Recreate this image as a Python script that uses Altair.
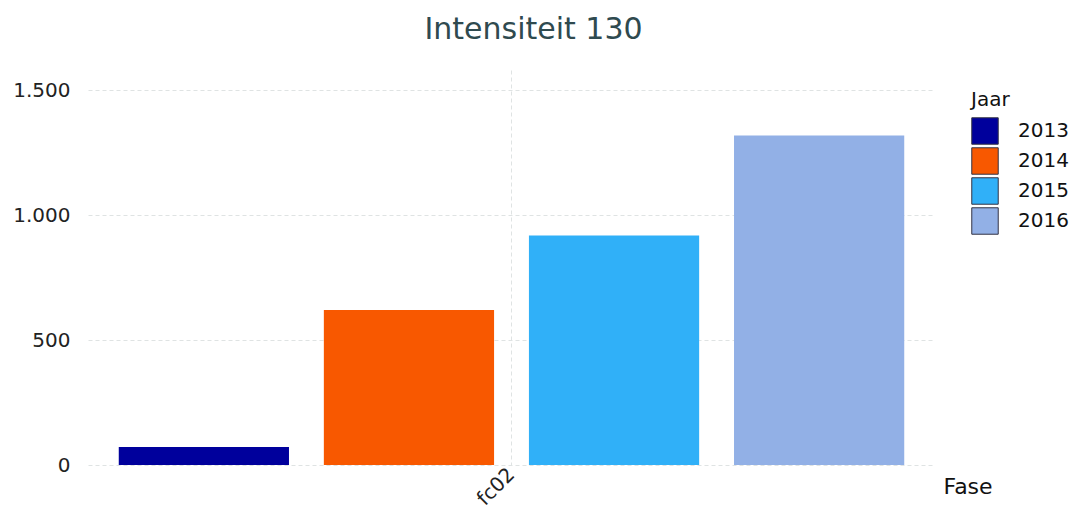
import altair as alt
import pandas as pd

fase = ["fc02", "fc02", "fc02", "fc02"]
jaar = ["2013", "2014", "2015", "2016"]
waarde = [72, 620, 918, 1318]
kleuren = ["#00009c", "#f85800", "#30b0f8", "#92b0e6"]

df = pd.DataFrame({"Fase": fase, "Jaar": jaar, "Waarde": waarde})

F = "DejaVu Sans"

chart = alt.Chart(df).mark_bar().encode(
    x=alt.X("Fase:N", scale=alt.Scale(paddingInner=0, paddingOuter=0),
            axis=alt.Axis(title="Fase", labelAngle=315, labelAlign="right", labelBaseline="middle",
                          labelFontSize=20, labelColor="#222", labelFont=F,
                          labelPadding=6, domain=False, ticks=False,
                          grid=True, gridDash=[4, 3], gridColor="#dfe3e3",
                          titleFont=F, titleFontSize=22, titleFontWeight="normal",
                          titleColor="#111", titleX=855, titleY=28, titleAlign="left",
                          titleAnchor="start", titleBaseline="alphabetic")),
    xOffset=alt.XOffset("Jaar:N", scale=alt.Scale(paddingInner=0.17, paddingOuter=0.15)),
    y=alt.Y("Waarde:Q", scale=alt.Scale(domain=[0, 1580], nice=False),
            axis=alt.Axis(title=None, values=[0, 500, 1000, 1500],
                          labelExpr="replace(format(datum.value, ','), /,/g, '.')",
                          labelFontSize=20, labelColor="#222", labelFont=F,
                          labelPadding=18, domain=False, ticks=False,
                          grid=True, gridDash=[4, 3], gridColor="#dfe3e3")),
    color=alt.Color("Jaar:N", scale=alt.Scale(domain=jaar, range=kleuren),
                    legend=alt.Legend(title="Jaar", orient="none", legendX=883, legendY=20,
                                      symbolType="square", symbolSize=700,
                                      symbolStrokeColor="#334", symbolStrokeWidth=1,
                                      symbolOpacity=1, rowPadding=-9,
                                      titleFont=F, titleFontSize=20,
                                      titleFontWeight="normal", titleColor="#111", titlePadding=7,
                                      labelFont=F, labelFontSize=20,
                                      labelColor="#111", labelOffset=19)),
).properties(
    width=847, height=395,
    title=alt.TitleParams("Intensiteit 130", font=F, fontSize=30,
                          fontWeight="normal", color="#2f4a4f", anchor="middle",
                          dx=22, offset=25),
    padding={"left": 88, "top": 70, "right": 139, "bottom": 44},
    autosize=alt.AutoSizeParams(type="none"),
).configure_view(stroke=None)

chart.save("out.html", embed_options={"renderer": "svg", "actions": False})
